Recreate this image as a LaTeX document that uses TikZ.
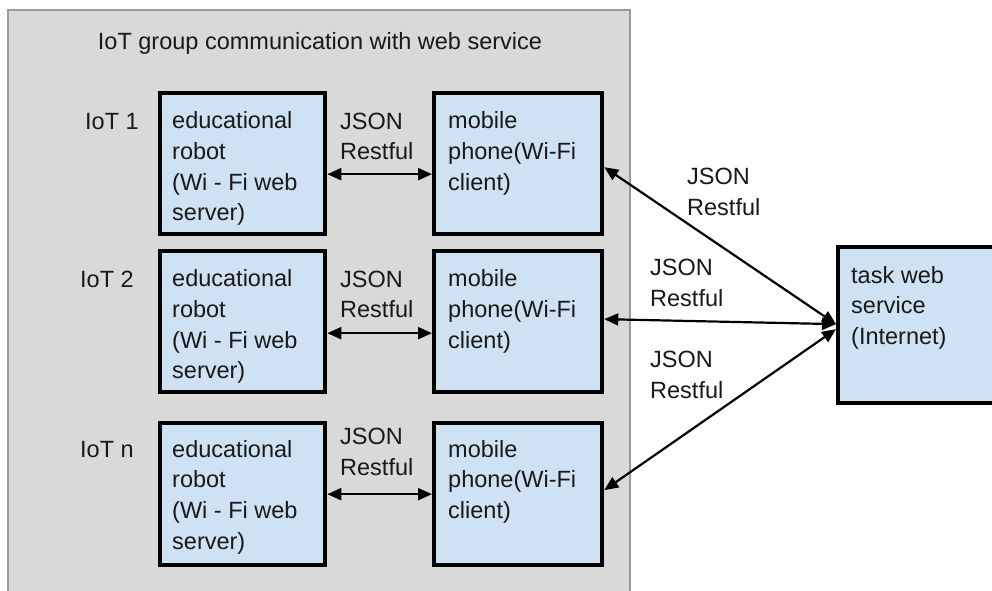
\documentclass[tikz,border=0pt]{standalone}
\usepackage{fontspec}
\setmainfont{Liberation Sans}
\usetikzlibrary{arrows.meta}
\definecolor{panelgray}{HTML}{D9D9D9}
\definecolor{panelline}{HTML}{9A9A9A}
\definecolor{boxblue}{HTML}{CFE2F3}
\tikzset{
  unitbox/.style={draw=black, line width=4.3pt, fill=boxblue, anchor=north west, inner sep=0pt},
  txt/.style={font=\fontsize{23.5}{30.7}\selectfont, text=black!90, inner sep=0pt, align=left},
  link/.style={line width=2.2pt, {Triangle[length=14pt,width=12pt]}-{Triangle[length=14pt,width=12pt]}}
}
\begin{document}
\begin{tikzpicture}[x=1pt, y=-1pt]
\clip (0,0) rectangle (992,590);
\fill[white] (0,0) rectangle (992,590);

% group panel
\draw[panelline, fill=panelgray, line width=1.5pt] (8,10) rectangle (630,610);
\node[txt, anchor=base] (title) at (320,49) {IoT group communication with web service};

% robots and phones
\node[unitbox, minimum width=165pt, minimum height=141pt] (robot1) at (158,91) {};
\node[unitbox, minimum width=168pt, minimum height=141pt] (phone1) at (432,91) {};
\node[unitbox, minimum width=165pt, minimum height=141pt] (robot2) at (158,249) {};
\node[unitbox, minimum width=168pt, minimum height=141pt] (phone2) at (432,249) {};
\node[unitbox, minimum width=165pt, minimum height=142pt] (robot3) at (158,421) {};
\node[unitbox, minimum width=168pt, minimum height=142pt] (phone3) at (432,421) {};

% web service
\node[unitbox, minimum width=180pt, minimum height=156pt] (task) at (836,245) {};

% row labels
\node[txt, anchor=base west] (iot1) at (85,129) {IoT 1};
\node[txt, anchor=base west] (iot2) at (80,287) {IoT 2};
\node[txt, anchor=base west] (iotn) at (80,457) {IoT n};

% box texts
\node[txt, anchor=north west] (r1t) at (172,111.5) {educational\\robot\\(Wi - Fi web\\server)};
\node[txt, anchor=north west] (p1t) at (448,111.5) {mobile\\phone(Wi-Fi\\client)};
\node[txt, anchor=north west] (r2t) at (172,269.5) {educational\\robot\\(Wi - Fi web\\server)};
\node[txt, anchor=north west] (p2t) at (448,269.5) {mobile\\phone(Wi-Fi\\client)};
\node[txt, anchor=north west] (r3t) at (172,440) {educational\\robot\\(Wi - Fi web\\server)};
\node[txt, anchor=north west] (p3t) at (448,440) {mobile\\phone(Wi-Fi\\client)};
\node[txt, anchor=north west] (taskt) at (851,266) {task web\\service\\(Internet)};

% protocol labels
\node[txt, anchor=north west] (j1) at (340,112.5) {JSON\\Restful};
\node[txt, anchor=north west] (j2) at (340,270.5) {JSON\\Restful};
\node[txt, anchor=north west] (j3) at (340,428) {JSON\\Restful};
\node[txt, anchor=north west] (k1) at (687,168) {JSON\\Restful};
\node[txt, anchor=north west] (k2) at (650,259) {JSON\\Restful};
\node[txt, anchor=north west] (k3) at (650,351) {JSON\\Restful};

% robot <-> phone links
\draw[link] ([yshift=-10.5pt]robot1.east) -- ([yshift=-10.5pt]phone1.west);
\draw[link] ([yshift=-11.5pt]robot2.east) -- ([yshift=-11.5pt]phone2.west);
\draw[link] ([yshift=0pt]robot3.east) -- ([yshift=0pt]phone3.west);

% phone <-> web service links
\draw[link] ([yshift=-3.5pt]phone1.east) -- ([yshift=1pt]task.west);
\draw[link] ([yshift=2.5pt]phone2.east) -- ([yshift=1pt]task.west);
\draw[link] ([yshift=4pt]phone3.east) -- ([yshift=-4pt]task.west);
\end{tikzpicture}
\end{document}
